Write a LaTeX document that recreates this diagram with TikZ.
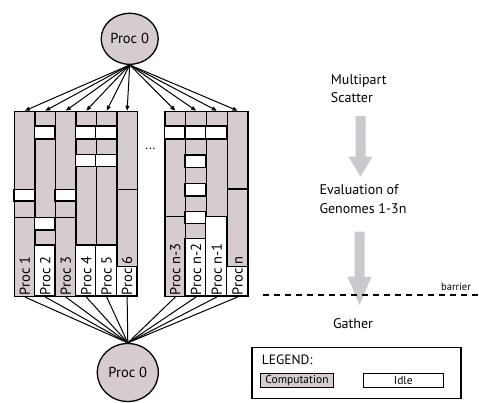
\documentclass[tikz,border=0pt]{standalone}
\usepackage{fontspec}
\setmainfont{PT Sans}
\usepackage{tikz}
\usetikzlibrary{arrows.meta,shapes.geometric}
\definecolor{comp}{RGB}{214,204,207}
\definecolor{flow}{RGB}{200,202,206}
\tikzset{>/.tip={Triangle[length=5pt,width=4pt]},
  proc/.style={ellipse,draw,line width=1.3pt,fill=comp,inner sep=0pt,font=\fontsize{14.5}{16}\selectfont},
  col/.style={draw,line width=1.3pt,fill=comp,minimum height=185pt,inner sep=0pt,anchor=north west},
  idle/.style={draw,line width=1.3pt,fill=white},
  lbl/.style={rotate=90,anchor=west,inner sep=1.5pt,font=\fontsize{14.5}{16}\selectfont},
  note/.style={align=left,anchor=north west,inner sep=0pt,font=\fontsize{14}{18.5}\selectfont},
  key/.style={draw,line width=1.3pt,minimum height=14pt,inner sep=0pt,font=\fontsize{11.5}{13}\selectfont}}
\newcommand{\flowarrow}[4]{\fill[flow] (#1-5,#2) -- (#1+5,#2) -- (#1+5,#3) -- (#1+12,#3) -- (#1,#4) -- (#1-12,#3) -- (#1-5,#3) -- cycle;}

\begin{document}
\begin{tikzpicture}[x=1pt,y=-1pt]
\useasboundingbox (0,0) rectangle (479,402);

\node[proc,minimum width=57pt,minimum height=51pt] (top) at (129.7,38.8) {Proc 0};
\node[proc,minimum width=61pt,minimum height=58pt] (bot) at (127.8,372.5) {Proc 0};

% processor columns
\foreach \nm/\x in {c1/14,c2/34.45,c3/54.9,c4/75.35,c5/95.8,c6/116.25}
  \node[col,minimum width=20.45pt] (\nm) at (\x,110.7) {};
\foreach \nm/\x in {cn3/164.3,cn2/185.05,cn1/205.8,cn/226.55}
  \node[col,minimum width=20.75pt] (\nm) at (\x,110.7) {};

% idle slots
\foreach \x/\ya/\yb in {14/189.3/201, 34.45/126/139, 34.45/217.7/230, 34.45/245/295.7,
  54.9/189.3/201, 75.35/126/139, 75.35/154.3/166.7, 75.35/245/295.7,
  95.8/126/139, 95.8/154.3/166.7, 95.8/245/295.7, 116.25/266.7/295.7}
  \draw[idle] (\x,\ya) rectangle (\x+20.45,\yb);
\foreach \x/\ya/\yb in {164.3/126/139, 185.05/126/139, 185.05/155/167.3, 185.05/183.3/196,
  185.05/211.7/223.3, 185.05/238.3/295.7, 205.8/126/139, 205.8/216.7/295.7, 226.55/266.7/295.7}
  \draw[idle] (\x,\ya) rectangle (\x+20.75,\yb);
\foreach \x/\y in {14/217.3, 54.9/217.3, 116.25/189.3}
  \draw[line width=1.3pt] (\x,\y) -- (\x+20.45,\y);
\foreach \x/\y in {164.3/216.7, 226.55/189}
  \draw[line width=1.3pt] (\x,\y) -- (\x+20.75,\y);

\foreach \nm/\txt in {c1/Proc 1,c2/Proc 2,c3/Proc 3,c4/Proc 4,c5/Proc 5,c6/Proc 6,
  cn3/Proc n-3,cn2/Proc n-2,cn1/Proc n-1,cn/Proc n}
  \node[lbl] (l\nm) at (\nm.south) {\txt};

\node[font=\fontsize{13}{15}\selectfont] (dots) at (150.5,149) {...};

% scatter and gather
\foreach \c in {c1,c2,c3,c4,c5,c6,cn3,cn2,cn1,cn}
  \draw[->,line width=1pt] (top.south) -- (\c.north);
\foreach \c in {c1,c2,c3,c4,c5,c6,cn3,cn2,cn1,cn}
  \draw[line width=1pt] (\c.south) -- (bot.north);

% right hand side
\node[note] (scatter) at (330.7,74) {Multipart\\Scatter};
\node[note] (eval) at (319.3,184.5) {Evaluation of\\Genomes 1-3n};
\flowarrow{360.5}{116}{156.7}{176.7}
\flowarrow{359.5}{231.7}{276.7}{305}
\coordinate (barL) at (263,295);
\coordinate (barR) at (479,295);
\draw[line width=1.2pt,dash pattern=on 6pt off 5pt] (barL) -- (barR);
\node[font=\fontsize{10.5}{12}\selectfont] (barrier) at (456,286.5) {barrier};
\node[font=\fontsize{14}{16}\selectfont] (gather) at (353,324) {Gather};

% legend
\node[draw,line width=1.3pt,minimum width=209pt,minimum height=50.6pt,inner sep=0pt] (legend) at (356.4,373) {};
\node[anchor=west,inner sep=0pt,font=\fontsize{13.5}{15}\selectfont] (legtitle) at (261.7,360) {LEGEND:};
\node[key,fill=comp,minimum width=72.6pt] (kcomp) at (297,380.3) {Computation};
\node[key,fill=white,minimum width=80pt] (kidle) at (403.3,380.3) {Idle};
\end{tikzpicture}
\end{document}
